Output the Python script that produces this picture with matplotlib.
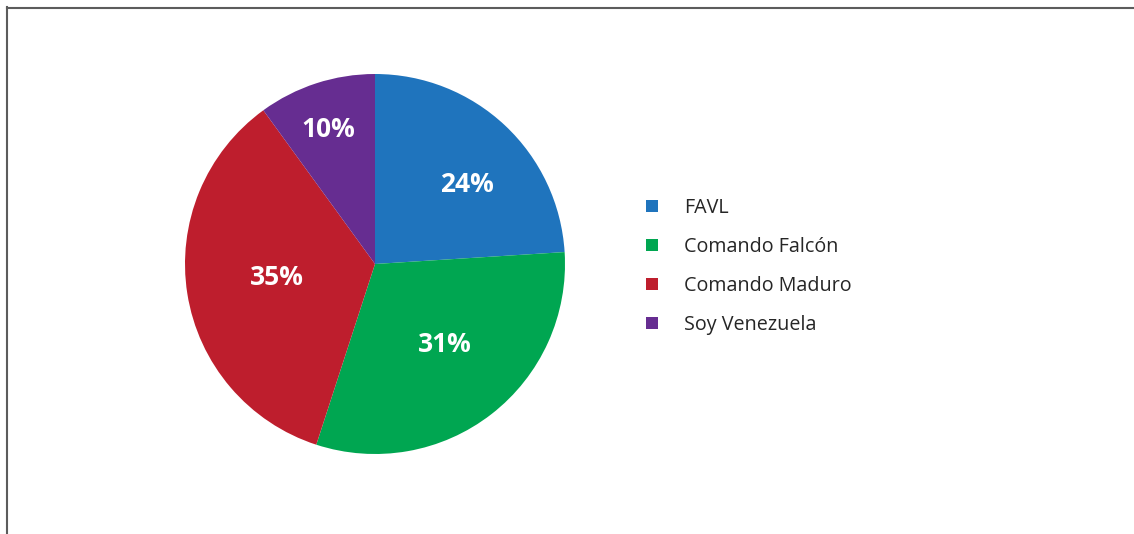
import matplotlib
matplotlib.use("Agg")
import matplotlib.pyplot as plt
from matplotlib.lines import Line2D
import numpy as np

categories = ["FAVL", "Comando Falcón", "Comando Maduro", "Soy Venezuela"]
values = [24, 31, 35, 10]
colors = ["#1f74bd", "#00a651", "#be1e2d", "#662d91"]

# label placement style: (radius fraction, angle offset in degrees)
label_style = [(0.64, -6), (0.56, 3), (0.52, -1), (0.75, 1)]

W, H = 1134, 534
fig = plt.figure(figsize=(W / 100, H / 100), dpi=100)
fig.patch.set_facecolor("white")

# frame lines (left and top)
fig.add_artist(Line2D([6.5 / W, 6.5 / W], [0, 1 - 7 / H], color="#5c5c5c", lw=1.5, transform=fig.transFigure))
fig.add_artist(Line2D([6.5 / W, 1], [1 - 7.5 / H, 1 - 7.5 / H], color="#5c5c5c", lw=1.5, transform=fig.transFigure))

cx, cy, r = 375, 264, 190
m = 1.02
ax = fig.add_axes([(cx - r * m) / W, (H - cy - r * m) / H, 2 * r * m / W, 2 * r * m / H])

wedges, _ = ax.pie(values, colors=colors, startangle=90, counterclock=False, radius=1,
                   wedgeprops=dict(linewidth=0))
ax.set_xlim(-m, m)
ax.set_ylim(-m, m)
ax.set_aspect("equal")
ax.axis("off")

total = sum(values)
for w, v, (rf, off) in zip(wedges, values, label_style):
    ang = np.deg2rad((w.theta1 + w.theta2) / 2 + off)
    ax.text(rf * np.cos(ang), rf * np.sin(ang), f"{round(100 * v / total)}%",
            ha="center", va="center", color="white", fontsize=19, fontweight="bold",
            family=["Open Sans", "DejaVu Sans"])

handles = [Line2D([], [], marker="s", linestyle="none", markersize=9, markerfacecolor=c,
                  markeredgewidth=0) for c in colors]
leg = fig.legend(handles, categories, loc="upper left", bbox_to_anchor=(642 / W, 1 - 198 / H),
                 frameon=False, handlelength=1.0, handletextpad=1.12, labelspacing=0.97,
                 prop=dict(family=["Open Sans", "DejaVu Sans"], size=14.2), borderaxespad=0, borderpad=0)
for t in leg.get_texts():
    t.set_color("#262626")

fig.savefig("out.png", dpi=100, facecolor="white")
